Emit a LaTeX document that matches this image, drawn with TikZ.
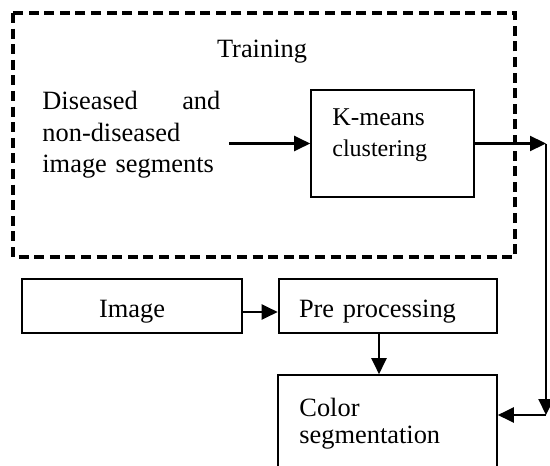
\documentclass[tikz,border=0pt]{standalone}
\usepackage{fontspec}
\setmainfont{Liberation Serif}
\usetikzlibrary{arrows.meta}

\tikzset{
    txt/.style={font=\fontsize{13.2}{15.5}\selectfont, inner sep=0pt},
    thickbox/.style={draw, line width=1.3pt, txt, text height=11.5pt, text depth=0pt},
    thinbox/.style={draw, line width=0.8pt, txt},
    arr/.style={line width=1.1pt, -{Triangle[length=8pt,width=7.5pt]}},
}

\begin{document}
\begin{tikzpicture}[x=0.5pt, y=-0.5pt]
        \useasboundingbox[fill=white] (0,0) rectangle (550,465);
        % training part
        \draw[line width=1.8pt, dash pattern=on 5pt off 2.8pt] (13,13) rectangle (515,257);
        \node[txt, anchor=base] (train) at (262,58) {Training};
        \node[txt, anchor=base west, text width=89pt, align=left] (seg) at (42,110)
            {Diseased\hfill and\\non-diseased\\image segments};
        \node[thinbox, minimum width=81.5pt, minimum height=53.5pt] (km) at (392.5,143.5) {};
        \node[txt, anchor=base west, text width=60pt, align=left, font=\fontsize{12.8}{15}\selectfont] (kmtext) at (332,126)
            {K-means\\{\fontsize{12}{15}\selectfont clustering}};
        % test part
        \node[thickbox, minimum width=110pt, minimum height=27pt] (img) at (132,306) {Image};
        \node[thickbox, minimum width=109pt, minimum height=27pt, text width=89pt, align=left] (pre) at (388,306) {Pre processing};
        \node[thinbox, minimum width=109.5pt, minimum height=50pt] (col) at (387.5,425) {};
        \node[txt, anchor=base west, text width=80pt, align=left, font=\fontsize{13.2}{13.5}\selectfont] (coltext) at (299,416)
            {Color\\segmentation};
        \coordinate (c1) at (546,143.5);
        \coordinate (c2) at (546,415);
        % connectors
        \draw[arr] ([xshift=4pt]seg.east |- km.west) -- (km.west);
        \draw[arr] (km.east) -- (c1);
        \draw[arr] (c1) -- (c2);
        \draw[arr] (c2) -- (c2 -| col.east);
        \draw[arr] ([yshift=-3pt]img.east) -- ([yshift=-3pt]pre.west);
        \draw[arr] ([xshift=-4.5pt]pre.south) -- ([xshift=-4.5pt]pre.south |- col.north);
    \end{tikzpicture}
\end{document}
